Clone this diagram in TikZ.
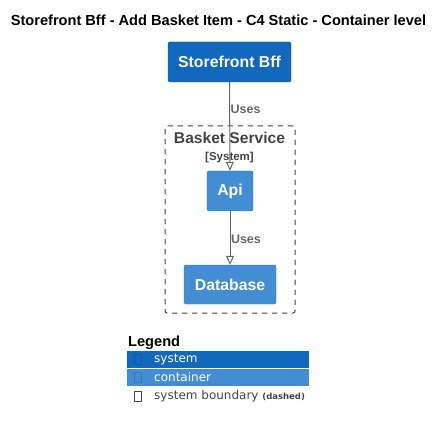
\documentclass[tikz,border=0pt]{standalone}
\usepackage{fontspec}
\setmainfont{Liberation Sans}
\newfontfamily\legendfont{DejaVu Sans}
\usetikzlibrary{positioning,arrows.meta}
\definecolor{sysblue}{HTML}{1168BD}
\definecolor{contblue}{HTML}{438DD5}
\definecolor{linegray}{HTML}{666666}
\definecolor{textgray}{HTML}{444444}
\tikzset{
  sysbox/.style={draw=sysblue!80!black, rectangle, rounded corners=1.5pt, fill=sysblue, text=white, font=\bfseries\fontsize{15.8}{18}\selectfont, inner sep=0pt},
  contbox/.style={draw=contblue!85!black, rectangle, rounded corners=1.5pt, fill=contblue, text=white, font=\bfseries\fontsize{15.8}{18}\selectfont, inner sep=0pt},
  uses/.style={draw=linegray, line width=1pt, -{Triangle[open,width=8pt,length=9pt]}},
  useslabel/.style={text=linegray, font=\bfseries\fontsize{12.5}{14}\selectfont, inner sep=0pt, anchor=west},
  legrow/.style={rectangle, minimum width=182, minimum height=17, inner sep=0pt},
  legicon/.style={draw, rectangle, minimum width=7, minimum height=10, inner sep=0pt, line width=0.6pt},
  legtext/.style={anchor=west, inner sep=0pt, font=\legendfont\fontsize{12}{14}\selectfont}
}
\begin{document}
\begin{tikzpicture}[x=1pt,y=-1pt]
\useasboundingbox (0,0) rectangle (444,430);
\node (title) at (218.5,20) {\bfseries\fontsize{14.6}{17}\selectfont Storefront Bff - Add Basket Item - C4 Static - Container level};
\node (bff)[sysbox, minimum width=123, minimum height=40] at (229.5,62) {Storefront Bff};
% boundary of the basket service
\node (basket)[draw=textgray, line width=1pt, dash pattern=on 5.5pt off 4.5pt, rectangle, rounded corners=2pt, minimum width=130, minimum height=187, inner sep=0pt] at (230,219.5) {};
\node (bsname)[text=textgray, font=\bfseries\fontsize{15.6}{18}\selectfont, inner sep=0pt] at (229.5,138) {Basket Service};
\node (bstype)[below=8pt of bsname, text=textgray, font=\bfseries\fontsize{11.5}{13}\selectfont, inner sep=0pt] {[System]};
\node (api)[contbox, minimum width=46, minimum height=40] at (230,191) {Api};
\node (db)[contbox, minimum width=92, minimum height=39] at (230,284.5) {Database};
\draw[uses](bff)--(api) node[useslabel, pos=0.31, xshift=0.5pt]{Uses};
\draw[uses](api)--(db) node[useslabel, pos=0.52, xshift=0.5pt]{Uses};
% legend
\node (legend)[anchor=west, inner sep=0pt, font=\bfseries\fontsize{14.6}{17}\selectfont] at (128,343) {Legend};
\node (legsys)[legrow, fill=sysblue, anchor=north west] at (127,351) {};
\node (legcont)[legrow, fill=contblue, below=0pt of legsys] {};
\node (iconsys)[legicon, draw=sysblue!85!black, right=7pt of legsys.west] {};
\node (iconcont)[legicon, draw=contblue!85!black, right=7pt of legcont.west] {};
\node (txtsys)[legtext, text=white] at (154,360) {system};
\node (txtcont)[legtext, text=white] at (154,377.5) {container};
\node (iconbnd)[legicon, draw=textgray] at (137.5,396) {};
\node (txtbnd)[legtext, text=textgray] at (154,396) {system boundary {\fontsize{8.5}{10}\selectfont\bfseries (dashed)}};
\end{tikzpicture}
\end{document}
